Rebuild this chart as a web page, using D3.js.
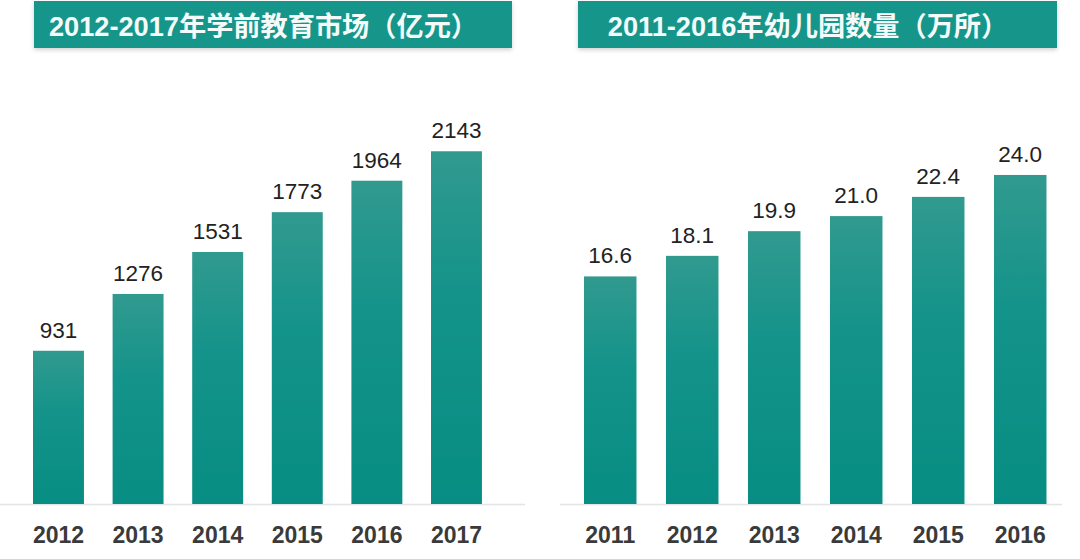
<!DOCTYPE html>
<html><head><meta charset="utf-8">
<script src="https://cdn.jsdelivr.net/npm/d3@7"></script>
<style>
html,body{margin:0;padding:0;background:#fff;}
svg{display:block;}
</style></head>
<body>
<svg id="c" width="1080" height="559"></svg>
<script>
const marketYears = ["2012","2013","2014","2015","2016","2017"];
const marketValues = [931, 1276, 1531, 1773, 1964, 2143];
const marketTitle = "2012-2017年学前教育市场（亿元）";

const kgYears = ["2011","2012","2013","2014","2015","2016"];
const kgValues = [16.6, 18.1, 19.9, 21.0, 22.4, 24.0];
const kgTitle = "2011-2016年幼儿园数量（万所）";

const svg = d3.select("#c");
const defs = svg.append("defs");
const grad = defs.append("linearGradient").attr("id","barg").attr("x1",0).attr("y1",0).attr("x2",0).attr("y2",1);
grad.append("stop").attr("offset","0%").attr("stop-color","#319a8f");
grad.append("stop").attr("offset","40%").attr("stop-color","#14938a");
grad.append("stop").attr("offset","100%").attr("stop-color","#078d83");
const sh = defs.append("filter").attr("id","sh").attr("x","-5%").attr("y","-20%").attr("width","110%").attr("height","150%");
sh.append("feDropShadow").attr("dx",0).attr("dy",2).attr("stdDeviation",2).attr("flood-color","#000").attr("flood-opacity",0.18);

const baseY = 504;
const font = "'Liberation Sans', Arial, 'Noto Sans CJK SC', sans-serif";

function panel(cfg){
  const g = svg.append("g");
  g.append("rect").attr("x",cfg.bx).attr("y",1).attr("width",cfg.bw).attr("height",47)
    .attr("fill","#17968a").attr("filter","url(#sh)");
  g.append("text").attr("x",cfg.bx+cfg.bw/2 + cfg.tdx).attr("y",35.5)
    .attr("text-anchor","middle").attr("fill","#f4fbfa")
    .attr("font-family",font).attr("font-weight","bold").attr("font-size",27.2)
    .text(cfg.title);
  g.append("line").attr("x1",cfg.lx0).attr("x2",cfg.lx1).attr("y1",baseY+0.5).attr("y2",baseY+0.5)
    .attr("stroke","#e4e4e4").attr("stroke-width",1.5);
  const x = d3.scaleBand().domain(cfg.cats).range(cfg.xr).paddingInner(0.36).paddingOuter(0.18);
  const y = d3.scaleLinear().domain([0, cfg.ymax]).range([baseY, baseY - cfg.ymax*cfg.k]);
  g.selectAll("rect.bar").data(cfg.vals).join("rect").attr("class","bar")
    .attr("x",(d,i)=>x(cfg.cats[i])).attr("width",x.bandwidth())
    .attr("y",d=>y(d)).attr("height",d=>baseY-y(d))
    .attr("fill","url(#barg)");
  g.selectAll("text.val").data(cfg.vals).join("text").attr("class","val")
    .attr("x",(d,i)=>x(cfg.cats[i])+x.bandwidth()/2).attr("y",d=>y(d)-13)
    .attr("text-anchor","middle").attr("fill","#222")
    .attr("font-family",font).attr("font-size",22.5)
    .text(d=>cfg.fmt(d));
  const ax = g.append("g").attr("transform",`translate(0,${baseY})`)
    .call(d3.axisBottom(x).tickSize(0).tickPadding(0));
  ax.select(".domain").remove();
  ax.selectAll("text").attr("y",39).attr("dy",0).attr("fill","#3a3a3a")
    .attr("font-family",font).attr("font-weight","bold").attr("font-size",23);
}

const step1 = 79.6;
panel({bx:34,bw:478,tdx:-9.5,title:marketTitle,cats:marketYears,vals:marketValues,
  xr:[33-0.18*step1, 33-0.18*step1+6*step1], ymax:2200, k:0.1646,
  fmt:d=>String(d), lx0:0, lx1:525});
const step2 = 82;
panel({bx:578,bw:479,tdx:-9.5,title:kgTitle,cats:kgYears,vals:kgValues,
  xr:[584-0.18*step2, 584-0.18*step2+6*step2], ymax:25, k:13.71,
  fmt:d=>d3.format(".1f")(d), lx0:560, lx1:1062});
</script>
</body></html>
